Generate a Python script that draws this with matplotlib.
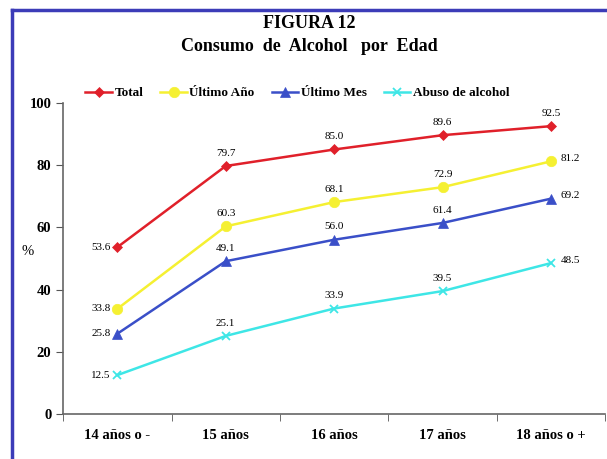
import matplotlib
matplotlib.use('Agg')
import matplotlib.pyplot as plt
from matplotlib.lines import Line2D
import numpy as np

matplotlib.rc('font', family='Liberation Serif', weight='bold', size=9)

categories = ['14 años o -', '15 años', '16 años', '17 años', '18 años o +']
total = [53.6, 79.7, 85.0, 89.6, 92.5]
ultimo_ano = [33.8, 60.3, 68.1, 72.9, 81.2]
ultimo_mes = [25.8, 49.1, 56.0, 61.4, 69.2]
abuso = [12.5, 25.1, 33.9, 39.5, 48.5]

series = [
    ('Total', total, '#E0202A', 'D', 5.5),
    ('Último Año', ultimo_ano, '#F5F032', 'o', 7.5),
    ('Último Mes', ultimo_mes, '#3A4FC8', '^', 6.5),
    ('Abuso de alcohol', abuso, '#3EE6E6', 'x', 6),
]

fig = plt.figure(figsize=(6.07, 4.59), dpi=100)
ax = fig.add_axes([0.104, 0.098, 0.893, 0.678])

x = np.arange(len(categories))
for name, vals, col, mk, ms in series:
    ax.plot(x, vals, color=col, marker=mk, markersize=ms, linewidth=1.8,
            markeredgewidth=1.3 if mk == 'x' else 0.5, label=name)

# value labels: first point left, middle above, last right (Total last above)
for name, vals, col, mk, ms in series:
    for i, v in enumerate(vals):
        if i == 0:
            ax.annotate(f'{v:.1f}', (i, v), xytext=(-5, 0), textcoords='offset points',
                        ha='right', va='center', fontsize=8, fontweight='normal')
        elif i == len(vals) - 1 and name != 'Total':
            ax.annotate(f'{v:.1f}', (i, v), xytext=(7, 2), textcoords='offset points',
                        ha='left', va='center', fontsize=8, fontweight='normal')
        else:
            ax.annotate(f'{v:.1f}', (i, v), xytext=(0, 6), textcoords='offset points',
                        ha='center', va='bottom', fontsize=8, fontweight='normal')

ax.set_xlim(-0.5, len(categories) - 0.5)
ax.set_ylim(0, 100)
ax.set_yticks([0, 20, 40, 60, 80, 100])
ax.set_xticks(x)
ax.set_xticklabels(categories, fontsize=10.5)
ax.set_xticks(np.arange(-0.5, len(categories)), minor=True)
ax.tick_params(axis='x', which='major', length=0, pad=11)
ax.tick_params(axis='x', which='minor', length=5, direction='out', color='#555555')
ax.tick_params(axis='y', length=5, direction='out', color='#555555', labelsize=10.5)
ax.spines['top'].set_visible(False)
ax.spines['right'].set_visible(False)
for s in ['left', 'bottom']:
    ax.spines[s].set_color('#666666')
    ax.spines[s].set_linewidth(1.2)
ax.set_ylabel('%', rotation=0, fontsize=10.5)
ax.yaxis.set_label_coords(-0.065, 0.5)

fig.text(0.51, 0.948, 'FIGURA 12', ha='center', va='center', fontsize=13)
fig.text(0.51, 0.898, 'Consumo  de  Alcohol   por  Edad', ha='center', va='center', fontsize=13)

fig.legend(loc='center', bbox_to_anchor=(0.49, 0.797), ncol=4, frameon=False,
           fontsize=9.5, handlelength=2.0, handletextpad=0.2, columnspacing=1.3)

# blue frame around the figure (right and bottom run off the picture)
fig.add_artist(Line2D([0.02, 1.0], [0.978, 0.978], transform=fig.transFigure,
                      color='#3C3CB8', linewidth=2.5))
fig.add_artist(Line2D([0.02, 0.02], [0.0, 0.978], transform=fig.transFigure,
                      color='#3C3CB8', linewidth=2.5))

fig.savefig('out.png', dpi=100)
